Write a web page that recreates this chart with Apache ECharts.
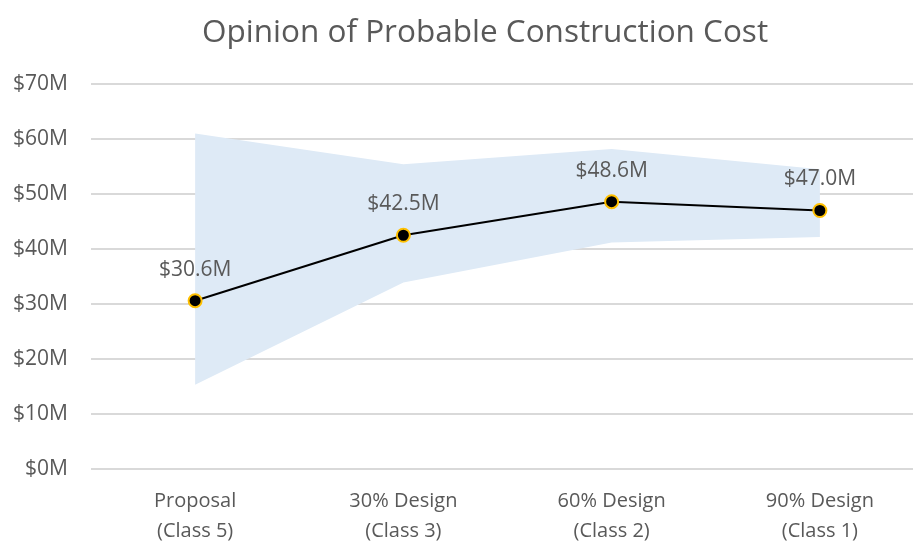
<!DOCTYPE html>
<html>
<head>
<meta charset="utf-8">
<script src="https://cdn.jsdelivr.net/npm/echarts@6/dist/echarts.min.js"></script>
<style>
  html, body { margin: 0; padding: 0; background: #fff; }
  #chart { width: 913px; height: 543px; }
</style>
</head>
<body>
<div id="chart"></div>
<script>
const categories = ['Proposal\n(Class 5)', '30% Design\n(Class 3)', '60% Design\n(Class 2)', '90% Design\n(Class 1)']
const estimate = [30.6, 42.5, 48.6, 47.0]
const rangeLow = [15.3, 33.9, 41.2, 42.2]
const rangeHigh = [61.0, 55.4, 58.2, 54.5]

const textColor = '#595959'
const font = 'Open Sans'

// band = low (invisible) + (high - low) stacked on top
const rangeSpan = rangeHigh.map((v, i) => +(v - rangeLow[i]).toFixed(1))

let chart = echarts.init(document.getElementById('chart'))
chart.setOption({
  animation: false,
  title: {
    text: 'Opinion of Probable Construction Cost',
    left: 197,
    top: 12,
    textStyle: { color: textColor, fontFamily: font, fontSize: 31.5, fontWeight: 'normal' }
  },
  grid: { left: 91, top: 84, width: 833, height: 385, containLabel: false, outerBoundsMode: 'none' },
  xAxis: {
    type: 'category',
    data: categories,
    boundaryGap: true,
    axisLine: { show: false },
    axisTick: { show: false },
    axisLabel: { color: textColor, fontFamily: font, fontSize: 20, lineHeight: 30, margin: 17 }
  },
  yAxis: {
    type: 'value',
    min: 0,
    max: 70,
    interval: 10,
    axisLine: { show: false },
    axisTick: { show: false },
    splitLine: { lineStyle: { color: '#d9d9d9', width: 2 } },
    axisLabel: {
      color: textColor, fontFamily: font, fontSize: 21, margin: 23,
      formatter: v => '$' + v + 'M'
    }
  },
  series: [
    {
      name: 'low',
      type: 'line',
      stack: 'range',
      data: rangeLow,
      symbol: 'none',
      lineStyle: { opacity: 0 },
      silent: true
    },
    {
      name: 'range',
      type: 'line',
      stack: 'range',
      data: rangeSpan,
      symbol: 'none',
      lineStyle: { opacity: 0 },
      areaStyle: { color: '#deeaf6', opacity: 1 },
      silent: true
    },
    {
      name: 'estimate',
      type: 'line',
      data: estimate,
      symbol: 'circle',
      symbolSize: 13,
      lineStyle: { color: '#000', width: 2 },
      itemStyle: { color: '#000', borderColor: '#ffc000', borderWidth: 2 },
      label: {
        show: true,
        position: 'top',
        distance: 13,
        color: textColor,
        fontFamily: font,
        fontSize: 21,
        formatter: p => '$' + p.value.toFixed(1) + 'M'
      },
      z: 5
    }
  ]
})
</script>
</body>
</html>
